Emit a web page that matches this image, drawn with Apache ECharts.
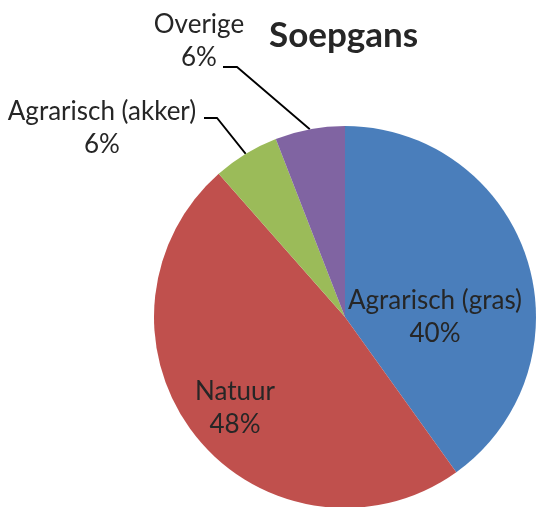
<!DOCTYPE html>
<html><head><meta charset="utf-8">
<script src="https://cdn.jsdelivr.net/npm/echarts@6/dist/echarts.min.js"></script>
<style>html,body{margin:0;padding:0;background:#fff}#c{width:537px;height:507px}</style>
</head><body><div id="c"></div>
<script>
const categories = ['Agrarisch (gras)', 'Natuur', 'Agrarisch (akker)', 'Overige'];
const values = [40.1, 48.4, 5.6, 5.9];
const colors = ['#4a7ebb', '#c0504d', '#9bbb59', '#8064a2'];
const chartTitle = 'Soepgans';

// label placement (layout, px)
const labelAt = [
  {x: 435, y: 317},
  {x: 235, y: 408},
  {x: 102, y: 128, line: [[217, 118], [204, 118]]},
  {x: 199, y: 41, line: [[237, 67], [223, 67]]}
];

const chart = echarts.init(document.getElementById('c'), null, {renderer: 'canvas'});
chart.setOption({
  animation: false,
  title: {
    text: chartTitle, left: 269, top: 18, padding: 0,
    textStyle: {fontFamily: 'Lato', fontWeight: 'bold', fontSize: 35, color: '#262626'}
  },
  series: [{
    type: 'pie',
    center: [345, 317],
    radius: 191,
    startAngle: 90,
    clockwise: true,
    silent: true,
    avoidLabelOverlap: false,
    percentPrecision: 0,
    itemStyle: {borderWidth: 0},
    data: categories.map((n, i) => ({
      name: n, value: values[i],
      itemStyle: {color: colors[i]},
      label: {position: i < 2 ? 'inside' : 'outside'},
      labelLine: {show: i >= 2}
    })),
    label: {
      formatter: '{b}\n{d}%', fontFamily: 'Lato', fontSize: 26, lineHeight: 33, color: '#262626'
    },
    labelLine: {smooth: false, lineStyle: {color: '#000', width: 1.8}},
    labelLayout: function (p) {
      const a = labelAt[p.dataIndex];
      const o = {x: a.x, y: a.y, align: 'center', verticalAlign: 'middle'};
      if (a.line && p.labelLinePoints) o.labelLinePoints = [p.labelLinePoints[0]].concat(a.line);
      return o;
    }
  }]
});
</script></body></html>
